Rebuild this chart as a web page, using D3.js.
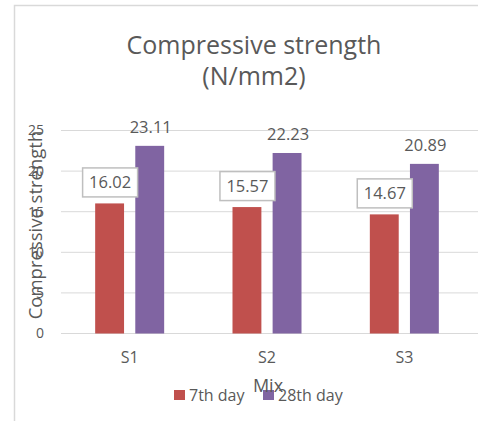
<!DOCTYPE html>
<html><head><meta charset="utf-8">
<script src="https://cdn.jsdelivr.net/npm/d3@7"></script>
<style>
html,body{margin:0;padding:0;background:#fff;}
svg{display:block;font-family:"Open Sans","Liberation Sans",sans-serif;}
</style></head>
<body><svg id="chart" width="478" height="421"></svg>
<script>
const categories = ["S1", "S2", "S3"];
const seriesNames = ["7th day", "28th day"];
const day7 = [16.02, 15.57, 14.67];
const day28 = [23.11, 22.23, 20.89];
const yTicks = [0, 5, 10, 15, 20, 25];
const colors = ["#C0504D", "#8064A2"];

const svg = d3.select("#chart");
const textCol = "#595959";

// chart area border
svg.append("rect").attr("x", 14.5).attr("y", 5.5).attr("width", 480).attr("height", 430)
  .attr("fill", "#fff").attr("stroke", "#d9d9d9").attr("stroke-width", 1.5);

const x0 = d3.scaleBand().domain(categories).range([61, 473]).paddingInner(0).paddingOuter(0);
const y = d3.scaleLinear().domain([0, 25]).range([333.5, 130.5]);

// gridlines
svg.append("g").selectAll("line").data(yTicks).join("line")
  .attr("x1", 61).attr("x2", 478)
  .attr("y1", d => y(d)).attr("y2", d => y(d))
  .attr("stroke", "#d9d9d9").attr("stroke-width", 1);

// y axis labels
const yAxis = d3.axisLeft(y).tickValues(yTicks).tickSize(0).tickPadding(0).tickFormat(d3.format("d"));
const gy = svg.append("g").attr("transform", "translate(44,0)").call(yAxis);
gy.select(".domain").remove();
gy.selectAll("text").attr("fill", textCol).attr("font-size", 14).attr("font-family", "Open Sans");

// x axis labels
const xAxis = d3.axisBottom(x0).tickSize(0).tickPadding(0);
const gx = svg.append("g").attr("transform", "translate(0,357)").call(xAxis);
gx.select(".domain").remove();
gx.selectAll("text").attr("fill", textCol).attr("font-size", 16).attr("font-family", "Open Sans").attr("dy", "0.35em");

const x1 = d3.scaleBand().domain([0, 1]).range([0, 69]).paddingInner(0.28);
const xOff = (x0.bandwidth() - 69) / 2;
const series = [day7, day28];

series.forEach((vals, si) => {
  svg.append("g").selectAll("rect").data(vals).join("rect")
    .attr("x", (d, i) => x0(categories[i]) + xOff + x1(si))
    .attr("width", x1.bandwidth())
    .attr("y", d => y(d))
    .attr("height", d => y(0) - y(d))
    .attr("fill", colors[si]);
});

// labels for 28 day
svg.append("g").selectAll("text").data(day28).join("text")
  .attr("x", (d, i) => x0(categories[i]) + xOff + x1(1) + x1.bandwidth() / 2 + 1)
  .attr("y", d => y(d) - 19)
  .attr("dy", "0.35em")
  .attr("text-anchor", "middle").attr("font-size", 16.5).attr("fill", textCol)
  .text(d => d.toFixed(2));

// boxed labels for 7 day
const lg = svg.append("g").selectAll("g").data(day7).join("g")
  .attr("transform", (d, i) => `translate(${x0(categories[i]) + xOff + x1(0) + x1.bandwidth() / 2},${y(d) - 21})`);
lg.append("rect").attr("x", -27).attr("y", -14.5).attr("width", 55).attr("height", 29)
  .attr("fill", "#fff").attr("stroke", "#bfbfbf").attr("stroke-width", 1.5);
lg.append("text").attr("x", 0.5).attr("dy", "0.35em").attr("text-anchor", "middle")
  .attr("font-size", 16.5).attr("fill", textCol).text(d => d.toFixed(2));

// title
svg.append("text").attr("x", 254).attr("y", 45).attr("dy", "0.35em").attr("text-anchor", "middle")
  .attr("font-size", 25).attr("fill", textCol).text("Compressive strength");
svg.append("text").attr("x", 254).attr("y", 76).attr("dy", "0.35em").attr("text-anchor", "middle")
  .attr("font-size", 25).attr("fill", textCol).text("(N/mm2)");

// y axis title
svg.append("text").attr("transform", "translate(36,225) rotate(-90)")
  .attr("dy", "0.35em").attr("text-anchor", "middle")
  .attr("font-size", 18.5).attr("fill", textCol).text("Compressive strength");

// legend
const legX = [174, 263];
const leg = svg.append("g").selectAll("g").data(seriesNames).join("g")
  .attr("transform", (d, i) => `translate(${legX[i]},390)`);
leg.append("rect").attr("width", 11).attr("height", 10).attr("fill", (d, i) => colors[i]);
leg.append("text").attr("x", 15).attr("y", 5).attr("dy", "0.35em")
  .attr("font-size", 16).attr("fill", textCol).text(d => d);

// x axis title
svg.append("text").attr("x", 268).attr("y", 386).attr("dy", "0.35em").attr("text-anchor", "middle")
  .attr("font-size", 18).attr("fill", textCol).text("Mix");
</script></body></html>
